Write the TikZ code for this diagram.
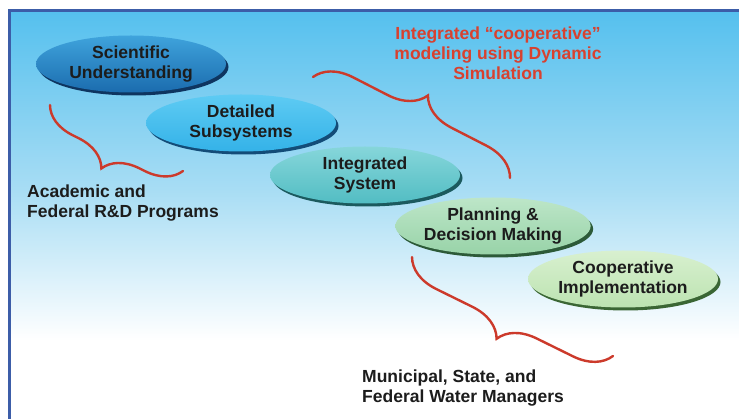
\documentclass[tikz,border=0pt]{standalone}
\usepackage{fontspec}
\setmainfont{Liberation Sans}
\usetikzlibrary{
  positioning,
  shapes.geometric,
  shadows,
  decorations.pathreplacing
}
\definecolor{skyTop}{HTML}{55C0EE}
\definecolor{skyMid}{HTML}{A8DDF4}
\definecolor{frameBlue}{HTML}{3C5DA8}
\definecolor{braceRed}{HTML}{CC3A2B}
\definecolor{noteRed}{HTML}{D8412F}
\definecolor{inkDark}{HTML}{1C1C1C}
% stage colours: top, bottom, rim
\definecolor{sciTop}{HTML}{3FA3DC}\definecolor{sciBot}{HTML}{1B6CAE}\definecolor{sciRim}{HTML}{0E3560}
\definecolor{subTop}{HTML}{5ECBF3}\definecolor{subBot}{HTML}{34B2E8}\definecolor{subRim}{HTML}{134C78}
\definecolor{sysTop}{HTML}{86D6DA}\definecolor{sysBot}{HTML}{52BDC3}\definecolor{sysRim}{HTML}{1B5A5E}
\definecolor{planTop}{HTML}{BDE6C8}\definecolor{planBot}{HTML}{98D3A8}\definecolor{planRim}{HTML}{2C5A38}
\definecolor{implTop}{HTML}{D8F0CF}\definecolor{implBot}{HTML}{BCE3B1}\definecolor{implRim}{HTML}{3A6634}
\tikzset{
  stage/.style={
    ellipse, minimum width=190pt, minimum height=57pt, inner sep=0pt,
    align=center, text=inkDark,
    font=\bfseries\fontsize{17.5}{19.5}\selectfont,
    top color=#1Top, bottom color=#1Bot,
    drop shadow={shadow xshift=2.5pt, shadow yshift=-3pt, fill=#1Rim, opacity=1}
  },
  note/.style={align=left, text=inkDark, inner sep=0pt,
    font=\bfseries\fontsize{17.5}{20}\selectfont},
  curly/.style={draw=braceRed, line width=2.4pt, line cap=round,
    decorate, decoration={brace, amplitude=#1}}
}
\begin{document}
\begin{tikzpicture}[x=1pt,y=-1pt]
  % background and frame
  \useasboundingbox (0,0) rectangle (739,419);
  \fill[white] (0,0) rectangle (739,419);
  \shade[top color=skyTop, bottom color=skyMid] (9.5,11) rectangle (739,190);
  \shade[top color=skyMid, bottom color=white] (9.5,190) rectangle (739,340);
  \draw[frameBlue, line width=3pt] (9.5,419) -- (9.5,11) -- (739,11);

  % stages
  \node[stage=sci] (sci) at (131,64) {Scientific\\Understanding};
  \node[stage=sub] (sub) at (241,123) {Detailed\\Subsystems};
  \node[stage=sys] (sys) at (365,175) {Integrated\\System};
  \node[stage=plan] (plan) at (493,226) {Planning \&\\Decision Making};
  \node[stage=impl] (impl) at (623,279) {Cooperative\\Implementation};

  % braces
  \coordinate (acadA) at (183,171);
  \coordinate (acadB) at (50,105);
  \coordinate (coopA) at (313,77);
  \coordinate (coopB) at (510,178);
  \coordinate (mgrA) at (613,356);
  \coordinate (mgrB) at (412,257);
  \draw[curly=34pt] (acadA) -- (acadB);
  \draw[curly=36pt] (coopA) -- (coopB);
  \draw[curly=36pt] (mgrA) -- (mgrB);

  % labels
  \node[note, anchor=north west] (acad) at (27,185)
    {Academic and\\Federal R\&D Programs};
  \node[note, anchor=north, align=center, text=noteRed] (coop) at (498,27)
    {Integrated ``cooperative''\\modeling using Dynamic\\Simulation};
  \node[note, anchor=north west] (mgr) at (362,370)
    {Municipal, State, and\\Federal Water Managers};
\end{tikzpicture}
\end{document}
